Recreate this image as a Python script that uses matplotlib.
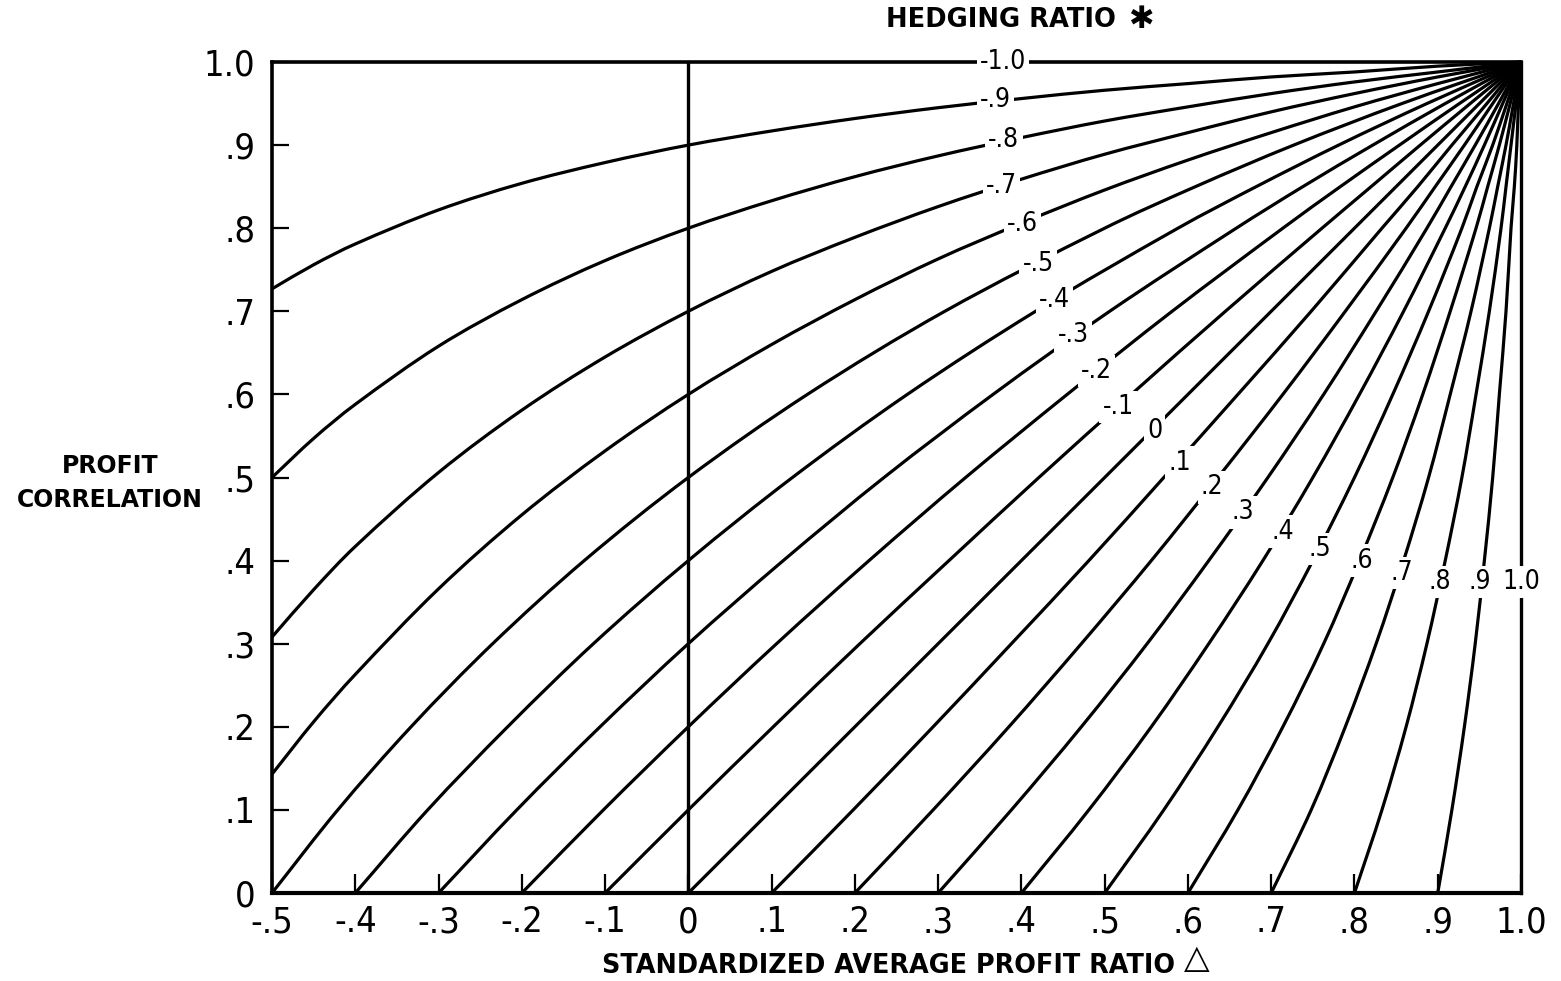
import numpy as np
import matplotlib
matplotlib.use('Agg')
import matplotlib.pyplot as plt
from matplotlib.path import Path
from matplotlib.patches import PathPatch

# hedging-ratio curves, profit correlation vs standardized average profit ratio

# curves -.5 .. .9 : x read at fixed correlation levels
rho_grid = [0.0, 0.1, 0.2, 0.3, 0.4, 0.5, 0.6, 0.7, 0.8, 0.85, 0.9, 0.95, 1.0]
hedge_main = [-0.5, -0.4, -0.3, -0.2, -0.1, 0.0, 0.1, 0.2, 0.3, 0.4, 0.5, 0.6, 0.7, 0.8, 0.9]
x_main = [
    [-0.500, -0.421, -0.333, -0.235, -0.125, 0.000, 0.143, 0.308, 0.500, 0.609, 0.727, 0.857, 1.0],
    [-0.400, -0.313, -0.217, -0.114, 0.000, 0.125, 0.263, 0.417, 0.588, 0.682, 0.781, 0.887, 1.0],
    [-0.300, -0.206, -0.106, 0.000, 0.114, 0.235, 0.366, 0.506, 0.658, 0.738, 0.822, 0.909, 1.0],
    [-0.200, -0.102, 0.000, 0.106, 0.217, 0.333, 0.455, 0.581, 0.714, 0.783, 0.854, 0.926, 1.0],
    [-0.100, 0.000, 0.102, 0.206, 0.313, 0.421, 0.532, 0.645, 0.761, 0.820, 0.879, 0.939, 1.0],
    [0.000, 0.100, 0.200, 0.300, 0.400, 0.500, 0.600, 0.700, 0.800, 0.850, 0.900, 0.950, 1.0],
    [0.100, 0.198, 0.294, 0.388, 0.481, 0.571, 0.660, 0.748, 0.833, 0.876, 0.917, 0.959, 1.0],
    [0.200, 0.294, 0.385, 0.472, 0.556, 0.636, 0.714, 0.789, 0.862, 0.897, 0.932, 0.966, 1.0],
    [0.300, 0.388, 0.472, 0.551, 0.625, 0.696, 0.763, 0.826, 0.887, 0.916, 0.945, 0.973, 1.0],
    [0.400, 0.481, 0.556, 0.625, 0.690, 0.750, 0.806, 0.859, 0.909, 0.933, 0.956, 0.978, 1.0],
    [0.500, 0.571, 0.636, 0.696, 0.750, 0.800, 0.846, 0.889, 0.929, 0.947, 0.966, 0.983, 1.0],
    [0.600, 0.660, 0.714, 0.763, 0.806, 0.846, 0.882, 0.915, 0.946, 0.960, 0.974, 0.987, 1.0],
    [0.700, 0.748, 0.789, 0.826, 0.859, 0.889, 0.915, 0.940, 0.962, 0.972, 0.982, 0.991, 1.0],
    [0.800, 0.833, 0.862, 0.887, 0.909, 0.929, 0.946, 0.962, 0.976, 0.982, 0.988, 0.994, 1.0],
    [0.900, 0.917, 0.932, 0.945, 0.956, 0.966, 0.974, 0.982, 0.988, 0.992, 0.995, 0.997, 1.0],
]

# curves -.9 .. -.6 : correlation read at fixed x
x_grid = [-0.5, -0.45, -0.4, -0.3, -0.2, -0.1, 0.0, 0.1, 0.2, 0.3, 0.4, 0.5, 0.6, 0.7, 0.8, 0.9, 1.0]
hedge_steep = [-0.9, -0.8, -0.7, -0.6]
rho_steep = [
    [0.727, 0.756, 0.781, 0.822, 0.854, 0.879, 0.900, 0.917, 0.932, 0.945, 0.956, 0.966, 0.974, 0.982, 0.988, 0.995, 1.0],
    [0.500, 0.547, 0.588, 0.658, 0.714, 0.761, 0.800, 0.833, 0.862, 0.887, 0.909, 0.929, 0.946, 0.962, 0.976, 0.988, 1.0],
    [0.308, 0.365, 0.417, 0.506, 0.581, 0.645, 0.700, 0.748, 0.789, 0.826, 0.859, 0.889, 0.915, 0.940, 0.962, 0.982, 1.0],
    [0.143, 0.206, 0.263, 0.366, 0.455, 0.532, 0.600, 0.660, 0.714, 0.763, 0.806, 0.846, 0.882, 0.915, 0.946, 0.974, 1.0],
]

# the two limiting curves (-1.0 along the top, 1.0 along the right)
top_x = [-0.5, 1.0]
top_y = [1.0, 1.0]
right_x = [1.0, 1.0]
right_y = [0.0, 1.0]

curve_labels = ['-1.0', '-.9', '-.8', '-.7', '-.6', '-.5', '-.4', '-.3', '-.2', '-.1', '0',
                '.1', '.2', '.3', '.4', '.5', '.6', '.7', '.8', '.9', '1.0']
label_x = [0.378, 0.369, 0.379, 0.376, 0.401, 0.420, 0.440, 0.462, 0.490, 0.516, 0.560,
           0.590, 0.629, 0.666, 0.714, 0.758, 0.809, 0.857, 0.903, 0.951, 1.0]
label_y = [1.0, 0.954, 0.906, 0.851, 0.805, 0.757, 0.714, 0.671, 0.628, 0.585, 0.556,
           0.518, 0.488, 0.458, 0.435, 0.414, 0.400, 0.385, 0.374, 0.374, 0.374]

x_ticks = [-0.5, -0.4, -0.3, -0.2, -0.1, 0.0, 0.1, 0.2, 0.3, 0.4, 0.5, 0.6, 0.7, 0.8, 0.9, 1.0]
x_tick_labels = ['-.5', '-.4', '-.3', '-.2', '-.1', '0', '.1', '.2', '.3', '.4', '.5',
                 '.6', '.7', '.8', '.9', '1.0']
y_ticks = [0.0, 0.1, 0.2, 0.3, 0.4, 0.5, 0.6, 0.7, 0.8, 0.9, 1.0]
y_tick_labels = ['0', '.1', '.2', '.3', '.4', '.5', '.6', '.7', '.8', '.9', '1.0']


def smooth_path(xs, ys):
    # bezier path through the read points (tangents from neighbouring points)
    p = np.column_stack([xs, ys]).astype(float)
    t = np.concatenate([[0.0], np.cumsum(np.hypot(*np.diff(p, axis=0).T))])
    m = np.zeros_like(p)
    m[0] = (p[1] - p[0]) / (t[1] - t[0])
    m[-1] = (p[-1] - p[-2]) / (t[-1] - t[-2])
    for i in range(1, len(p) - 1):
        m[i] = (p[i + 1] - p[i - 1]) / (t[i + 1] - t[i - 1])
    verts = [p[0]]
    codes = [Path.MOVETO]
    for i in range(len(p) - 1):
        h = t[i + 1] - t[i]
        verts += [p[i] + m[i] * h / 3, p[i + 1] - m[i + 1] * h / 3, p[i + 1]]
        codes += [Path.CURVE4] * 3
    return Path(verts, codes)


plt.rcParams['font.family'] = ['DejaVu Sans']
plt.rcParams['font.stretch'] = 'condensed'

W, H = 1561, 981
fig = plt.figure(figsize=(W / 100, H / 100), dpi=100, facecolor='white')
ax = fig.add_axes([272 / W, 88 / H, 1249 / W, 831 / H])

lw = 2.3
for xs in x_main:
    ax.add_patch(PathPatch(smooth_path(xs, rho_grid), fill=False, ec='black', lw=lw, clip_on=False))
for ys in rho_steep:
    ax.add_patch(PathPatch(smooth_path(x_grid, ys), fill=False, ec='black', lw=lw, clip_on=False))
ax.plot(top_x, top_y, color='black', lw=2.6, clip_on=False)
ax.plot(right_x, right_y, color='black', lw=2.4, clip_on=False)
ax.axvline(0, color='black', lw=2.4)

for t, lx, ly in zip(curve_labels, label_x, label_y):
    ax.text(lx, ly, t, ha='center', va='center', fontsize=19, zorder=6,
            bbox=dict(boxstyle='square,pad=0.12', fc='white', ec='none'))

ax.set_xlim(-0.5, 1.0)
ax.set_ylim(0, 1.0)
ax.spines['top'].set_visible(False)
ax.spines['right'].set_visible(False)
ax.spines['left'].set_linewidth(2.6)
ax.spines['bottom'].set_linewidth(3.0)

ax.set_xticks(x_ticks)
ax.set_xticklabels(x_tick_labels)
ax.set_yticks(y_ticks)
ax.set_yticklabels(y_tick_labels)
ax.tick_params(direction='in', width=1.6, labelsize=26)
ax.tick_params(axis='x', length=14, pad=9)
ax.tick_params(axis='y', length=12, pad=12)

bold = dict(family='DejaVu Sans', stretch='normal', weight='bold', color='black')
fig.text(1001 / W, 1 - 20 / H, 'HEDGING RATIO', ha='center', va='center', fontsize=18.5, **bold)
fig.text(1141 / W, 1 - 19 / H, '\u2731', ha='center', va='center', fontsize=22, **bold)
fig.text(110 / W, 1 - 483 / H, 'PROFIT\nCORRELATION', ha='center', va='center',
         multialignment='center', linespacing=1.55, fontsize=17, **bold)
fig.text(889 / W, 1 - 966 / H, 'STANDARDIZED AVERAGE PROFIT RATIO', ha='center', va='center',
         fontsize=18.4, **bold)
fig.text(1197 / W, 1 - 958 / H, '\u25b3', ha='center', va='center', fontsize=24, **bold)

fig.savefig('out.png', dpi=100)
